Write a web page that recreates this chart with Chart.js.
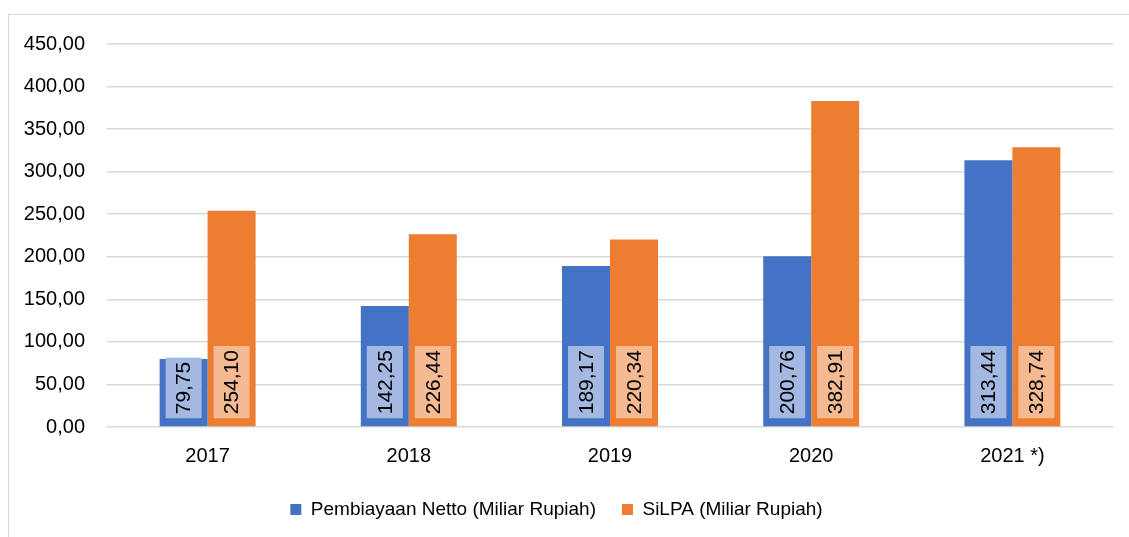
<!DOCTYPE html>
<html>
<head>
<meta charset="utf-8">
<script src="https://cdn.jsdelivr.net/npm/chart.js@4"></script>
<style>
  html, body { margin: 0; padding: 0; background: #fff; overflow: hidden; }
  .frame {
    position: absolute; left: 8px; top: 14px; width: 1140px; height: 560px;
    border: 1.5px solid #d9d9d9; box-sizing: border-box;
  }
  .wrap { position: absolute; left: 0; top: 0; width: 1129px; height: 537px; }
</style>
</head>
<body>
<div class="frame"></div>
<div class="wrap"><canvas id="barChart" width="1129" height="537"></canvas></div>
<script>
const years = ["2017", "2018", "2019", "2020", "2021 *)"];
const netto = [79.75, 142.25, 189.17, 200.76, 313.44];
const silpa = [254.1, 226.44, 220.34, 382.91, 328.74];

const FONT = "'Liberation Sans Narrow', 'Arial Narrow', 'Liberation Sans', Arial, sans-serif";

function fmt(v) {
  return v.toFixed(2).replace(".", ",");
}

// value boxes drawn vertically inside each bar, sitting near the base
const barLabels = {
  id: "barLabels",
  afterDatasetsDraw(chart) {
    const c = chart.ctx;
    const fills = ["#a3b9e1", "#f6ba93"];
    c.save();
    c.font = "21px " + FONT;
    chart.data.datasets.forEach((ds, i) => {
      chart.getDatasetMeta(i).data.forEach((bar, j) => {
        const txt = fmt(ds.data[j]);
        const w = c.measureText(txt).width;
        const boxH = w + 8;
        const boxW = 36;
        const bottom = bar.base - 8;
        c.fillStyle = fills[i];
        c.fillRect(bar.x - boxW / 2, bottom - boxH, boxW, boxH);
        c.save();
        c.translate(bar.x, bottom - boxH / 2);
        c.rotate(-Math.PI / 2);
        c.fillStyle = "#000";
        c.textAlign = "center";
        c.textBaseline = "middle";
        c.fillText(txt, 0, 1);
        c.restore();
      });
    });
    c.restore();
  },
};

let ctx = document.getElementById("barChart").getContext("2d");

new Chart(ctx, {
  type: "bar",
  data: {
    labels: years,
    datasets: [
      {
        label: "Pembiayaan Netto (Miliar Rupiah)",
        data: netto,
        backgroundColor: "#4472c4",
      },
      {
        label: "SiLPA (Miliar Rupiah)",
        data: silpa,
        backgroundColor: "#ed7d31",
      },
    ],
  },
  options: {
    responsive: false,
    animation: false,
    layout: {
      padding: { top: 44, right: 16, left: 0, bottom: 8 },
    },
    datasets: {
      bar: { barPercentage: 1, categoryPercentage: 0.477 },
    },
    scales: {
      x: {
        grid: { display: false },
        border: { display: false },
        ticks: { color: "#000", font: { family: FONT, size: 20 }, padding: 9 },
        afterFit(axis) { axis.height = 47; },
      },
      y: {
        min: 0,
        max: 450,
        ticks: {
          stepSize: 50,
          color: "#000",
          font: { family: FONT, size: 20 },
          padding: 22,
          callback: (v) => fmt(v),
        },
        grid: { color: "#d9d9d9", lineWidth: 1.5, drawTicks: false },
        border: { display: false },
        afterFit(axis) { axis.width = 107; },
      },
    },
    plugins: {
      legend: {
        position: "bottom",
        labels: {
          color: "#000",
          font: { family: FONT, size: 19 },
          boxWidth: 11,
          boxHeight: 11,
          padding: 26,
        },
      },
      tooltip: { enabled: false },
    },
  },
  plugins: [barLabels],
});
</script>
</body>
</html>
